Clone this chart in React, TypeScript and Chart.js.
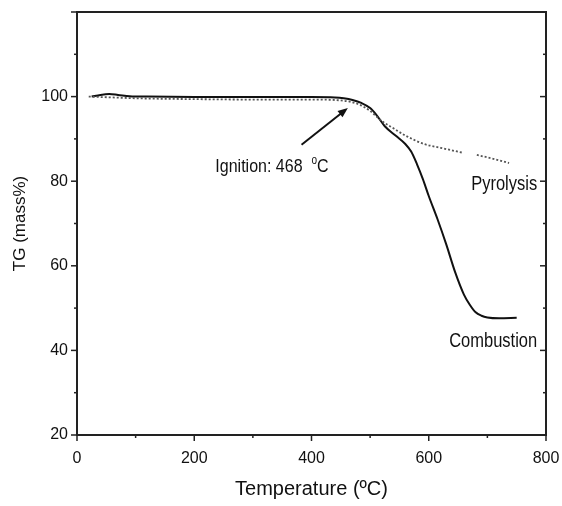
import React, { useEffect, useRef } from "react";
import { Chart, registerables } from "chart.js";

Chart.register(...registerables);

// Combustion (solid) TG curve
const combustionTemp = [25, 40, 55, 70, 90, 120, 200, 300, 400, 440, 455, 470, 485, 500, 510, 525, 545, 560, 570, 580, 590, 600, 615, 630, 645, 660, 670, 680, 690, 700, 720, 750];
const combustionMass = [100.0, 100.4, 100.6, 100.4, 100.1, 100.0, 99.9, 99.9, 99.9, 99.8, 99.6, 99.2, 98.5, 97.3, 95.8, 93.0, 90.6, 88.8, 87.0, 84.0, 80.5, 76.5, 71.0, 65.0, 58.5, 53.2, 50.8, 49.0, 48.2, 47.8, 47.6, 47.7];

// Pyrolysis (dotted) TG curve
const pyrolysisTemp = [20, 60, 100, 200, 300, 400, 450, 480, 500, 520, 541, 560, 592, 620, 659, 670, 682, 710, 737];
const pyrolysisMass = [100.0, 99.8, 99.6, 99.4, 99.3, 99.3, 99.1, 98.2, 96.6, 94.2, 92.4, 90.8, 88.8, 87.9, 86.7, null, 86.2, 85.3, 84.3];

const xTicks = [0, 200, 400, 600, 800];
const yTicks = [20, 40, 60, 80, 100];

const FONT = "'Liberation Sans', Arial, Helvetica, sans-serif";

const framePlugin = {
  id: "frame",
  afterDraw(chart: any) {
    const { ctx, chartArea, scales } = chart;
    const xs = scales.x;
    const ys = scales.y;
    const { left, right, top, bottom } = chartArea;
    ctx.save();
    ctx.strokeStyle = "#222";
    ctx.lineWidth = 2;
    ctx.beginPath();
    ctx.moveTo(left, top);
    ctx.lineTo(right, top);
    ctx.lineTo(right, bottom);
    ctx.stroke();
    ctx.lineWidth = 1.5;
    // x ticks (bottom, outward)
    for (let v = 0; v <= 800; v += 100) {
      const px = xs.getPixelForValue(v);
      const len = v % 200 === 0 ? 6 : 3;
      ctx.beginPath();
      ctx.moveTo(px, bottom);
      ctx.lineTo(px, bottom + len);
      ctx.stroke();
    }
    // y ticks left outward, right inward
    for (let v = 20; v <= 120; v += 10) {
      const py = ys.getPixelForValue(v);
      const major = v % 20 === 0;
      const len = major ? 6 : 3;
      ctx.beginPath();
      ctx.moveTo(left, py);
      ctx.lineTo(left - len, py);
      ctx.stroke();
      if (v < 120) {
        ctx.beginPath();
        ctx.moveTo(right, py);
        ctx.lineTo(right - len, py);
        ctx.stroke();
      }
    }
    // arrow
    const x0 = xs.getPixelForValue(383);
    const y0 = ys.getPixelForValue(88.6);
    const x1 = xs.getPixelForValue(462);
    const y1 = ys.getPixelForValue(97.3);
    ctx.strokeStyle = "#111";
    ctx.fillStyle = "#111";
    ctx.lineWidth = 2;
    const ang = Math.atan2(y1 - y0, x1 - x0);
    const hl = 10;
    ctx.beginPath();
    ctx.moveTo(x0, y0);
    ctx.lineTo(x1 - Math.cos(ang) * hl * 0.8, y1 - Math.sin(ang) * hl * 0.8);
    ctx.stroke();
    ctx.beginPath();
    ctx.moveTo(x1, y1);
    ctx.lineTo(x1 - hl * Math.cos(ang) + 4 * Math.sin(ang), y1 - hl * Math.sin(ang) - 4 * Math.cos(ang));
    ctx.lineTo(x1 - hl * Math.cos(ang) - 4 * Math.sin(ang), y1 - hl * Math.sin(ang) + 4 * Math.cos(ang));
    ctx.closePath();
    ctx.fill();

    // annotation texts (slightly stretched vertically like the source)
    const drawText = (t: string, x: number, y: number, align: CanvasTextAlign, size: number) => {
      ctx.save();
      ctx.translate(x, y);
      ctx.scale(1, 1.2);
      ctx.font = `${size}px ${FONT}`;
      ctx.textAlign = align;
      ctx.textBaseline = "alphabetic";
      ctx.fillStyle = "#111";
      ctx.fillText(t, 0, 0);
      ctx.restore();
    };
    // Ignition: 468 °C with superscript o
    const ix = xs.getPixelForValue(236);
    const iy = ys.getPixelForValue(82.2);
    ctx.font = `16px ${FONT}`;
    const main = "Ignition: 468  ";
    drawText(main, ix, iy, "left", 16);
    const w1 = ctx.measureText(main).width;
    drawText("o", ix + w1, iy - 8, "left", 10);
    ctx.font = `10px ${FONT}`;
    const w2 = ctx.measureText("o").width;
    drawText("C", ix + w1 + w2, iy, "left", 16);

    drawText("Pyrolysis", xs.getPixelForValue(785), ys.getPixelForValue(77.9), "right", 16.5);
    drawText("Combustion", xs.getPixelForValue(785), ys.getPixelForValue(40.9), "right", 16.5);
    ctx.restore();
  },
};

export default function App() {
  const ref = useRef<HTMLCanvasElement | null>(null);
  useEffect(() => {
    if (!ref.current) return;
    const chart = new Chart(ref.current, {
      type: "line",
      data: {
        datasets: [
          {
            label: "Pyrolysis",
            data: pyrolysisTemp.map((t, i) => ({ x: t, y: pyrolysisMass[i] as any })),
            borderColor: "#555",
            borderWidth: 1.8,
            borderDash: [2, 2],
            pointRadius: 0,
            cubicInterpolationMode: "monotone",
            spanGaps: false,
          },
          {
            label: "Combustion",
            data: combustionTemp.map((t, i) => ({ x: t, y: combustionMass[i] })),
            borderColor: "#111",
            borderWidth: 2,
            pointRadius: 0,
            cubicInterpolationMode: "monotone",
          },
        ],
      },
      options: {
        animation: false,
        responsive: true,
        maintainAspectRatio: false,
        layout: { padding: { top: 12, right: 16, left: 0, bottom: 0 } },
        plugins: { legend: { display: false }, tooltip: { enabled: false } },
        scales: {
          x: {
            type: "linear",
            min: 0,
            max: 800,
            afterFit: (s: any) => { s.height = 71; s.paddingLeft = 0; s.paddingRight = 0; },
            afterBuildTicks: (s: any) => { s.ticks = xTicks.map((v) => ({ value: v })); },
            grid: { display: false, drawTicks: false, tickLength: 0 },
            border: { display: true, color: "#222", width: 2 },
            ticks: { color: "#111", padding: 14, font: { size: 16, family: FONT }, maxRotation: 0 },
            title: { display: true, text: "Temperature (ºC)", color: "#111", font: { size: 20, family: FONT }, padding: { top: 0, bottom: 5 } },
          },
          y: {
            type: "linear",
            min: 20,
            max: 120,
            afterFit: (s: any) => { s.width = 77; s.paddingTop = 0; s.paddingBottom = 0; },
            afterBuildTicks: (s: any) => { s.ticks = yTicks.map((v) => ({ value: v })); },
            grid: { display: false, drawTicks: false, tickLength: 0 },
            border: { display: true, color: "#222", width: 2 },
            ticks: { color: "#111", padding: 9, font: { size: 16, family: FONT } },
            title: { display: true, text: "TG (mass%)", color: "#111", font: { size: 17, family: FONT }, padding: { top: 10, bottom: 0 } },
          },
        },
      },
      plugins: [framePlugin],
    });
    return () => chart.destroy();
  }, []);
  return (
    <div style={{ position: "fixed", left: 0, top: 0, width: 562, height: 506, background: "#fff" }}>
      <canvas ref={ref} />
    </div>
  );
}
